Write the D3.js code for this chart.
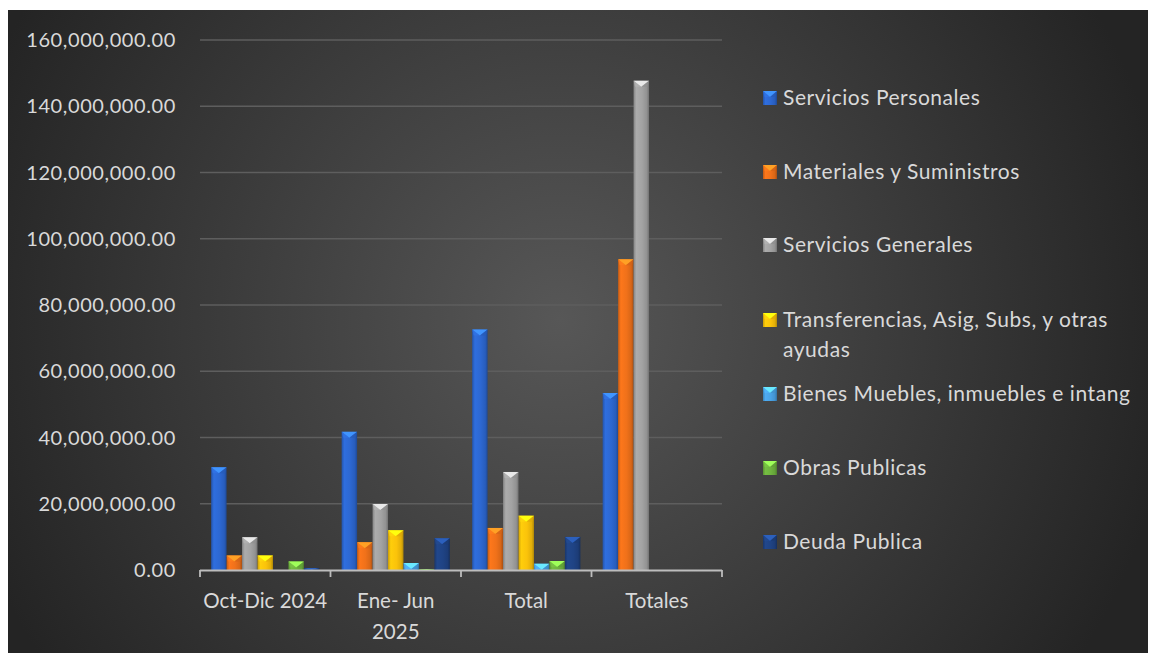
<!DOCTYPE html>
<html><head><meta charset="utf-8">
<script src="https://cdn.jsdelivr.net/npm/d3@7"></script>
<style>
html,body{margin:0;padding:0;background:#fff;}
svg{display:block;}
text{font-family:Lato,"Open Sans",sans-serif;fill:#d9d9d9;}
</style></head>
<body><svg id="c" width="1149" height="653"></svg>
<script>
const categories = ["Oct-Dic 2024", "Ene- Jun 2025", "Total", "Totales"];
const categoryLines = [["Oct-Dic 2024"], ["Ene- Jun", "2025"], ["Total"], ["Totales"]];
const seriesNames = ["Servicios Personales", "Materiales y Suministros", "Servicios Generales",
  "Transferencias, Asig, Subs, y otras ayudas", "Bienes Muebles, inmuebles e intang",
  "Obras Publicas", "Deuda Publica"];
const legendLines = [["Servicios Personales"], ["Materiales y Suministros"], ["Servicios Generales"],
  ["Transferencias, Asig, Subs, y otras", "ayudas"], ["Bienes Muebles, inmuebles e intang"],
  ["Obras Publicas"], ["Deuda Publica"]];
const seriesColors = ["#2d68d2", "#f0711a", "#a3a3a3", "#fbc30a", "#4aa3e6", "#6fb43f", "#1f4384"];
// values per series: [Oct-Dic 2024, Ene-Jun 2025, Total, Totales]
const servPersonales = [31000000, 41700000, 72600000, 53400000];
const materiales     = [4400000, 8400000, 12700000, 93800000];
const servGenerales  = [9900000, 19900000, 29600000, 147700000];
const transferencias = [4400000, 12000000, 16400000, 0];
const bienesMuebles  = [0, 2100000, 1900000, 0];
const obrasPublicas  = [2600000, 250000, 2700000, 0];
const deudaPublica   = [600000, 9600000, 10000000, 0];
const seriesValues = [servPersonales, materiales, servGenerales, transferencias, bienesMuebles, obrasPublicas, deudaPublica];
const yTicks = [0, 20000000, 40000000, 60000000, 80000000, 100000000, 120000000, 140000000, 160000000];

const svg = d3.select("#c");
const defs = svg.append("defs");

// background radial gradient
const bg = defs.append("radialGradient").attr("id","bg").attr("gradientUnits","userSpaceOnUse")
  .attr("cx",560).attr("cy",320).attr("r",620);
bg.append("stop").attr("offset","0%").attr("stop-color","#575757");
bg.append("stop").attr("offset","100%").attr("stop-color","#242424");
svg.append("rect").attr("x",8).attr("y",10).attr("width",1140).attr("height",643).attr("fill","url(#bg)");

// bar gradients
seriesColors.forEach((c,i)=>{
  const g = defs.append("linearGradient").attr("id","g"+i).attr("x1","0").attr("x2","1").attr("y1","0").attr("y2","0");
  const col = d3.color(c);
  g.append("stop").attr("offset","0%").attr("stop-color",col.darker(0.6));
  g.append("stop").attr("offset","18%").attr("stop-color",col.brighter(0.15));
  g.append("stop").attr("offset","55%").attr("stop-color",col);
  g.append("stop").attr("offset","85%").attr("stop-color",col.darker(0.3));
  g.append("stop").attr("offset","100%").attr("stop-color",col.darker(1.0));
});

const x0 = d3.scaleBand().domain(categories).range([200, 722]).padding(0);
const x1 = d3.scaleBand().domain(d3.range(seriesNames.length)).range([0, x0.bandwidth()]).paddingInner(0).paddingOuter(0.72);
const y = d3.scaleLinear().domain([0, 160000000]).range([570, 40]);

// gridlines
svg.append("g").selectAll("line").data(yTicks.slice(1)).join("line")
  .attr("x1",200).attr("x2",722).attr("y1",d=>y(d)).attr("y2",d=>y(d))
  .attr("stroke","#5e5e5e").attr("stroke-width",1.3);

// y labels
const fmt = d3.format(",.2f");
svg.append("g").selectAll("text").data(yTicks).join("text")
  .attr("x",176).attr("y",d=>y(d)).attr("dy","0.35em").attr("text-anchor","end")
  .style("font-size","20px").style("letter-spacing","0.6px").text(d=>fmt(d));

// bars
function drawBar(g, x, yTop, w, h, i){
  g.append("rect").attr("x",x).attr("y",yTop).attr("width",w).attr("height",h).attr("fill","url(#g"+i+")");
  const col = d3.color(seriesColors[i]);
  const t = Math.min(6, h);
  g.append("path").attr("d",`M${x},${yTop}L${x+w},${yTop}L${x+w/2},${yTop+t}Z`).attr("fill",col.brighter(1.0));
  g.append("path").attr("d",`M${x},${yTop}L${x+w/2},${yTop+t}L${x+1.5},${yTop+t}Z`).attr("fill",col.brighter(0.3)).attr("opacity",0.6);
  g.append("path").attr("d",`M${x+w},${yTop}L${x+w/2},${yTop+t}L${x+w-1.5},${yTop+t}Z`).attr("fill",col.darker(0.4)).attr("opacity",0.6);
}
const barsG = svg.append("g");
categories.forEach((cat,ci)=>{
  seriesValues.forEach((vals,si)=>{
    const v = vals[ci];
    if(v<=0) return;
    const bx = x0(cat)+x1(si), bw = x1.bandwidth();
    drawBar(barsG, bx, y(v), bw, y(0)-y(v), si);
  });
});

// axis line & ticks
const ax = svg.append("g");
ax.append("line").attr("x1",200).attr("x2",722).attr("y1",570.5).attr("y2",570.5).attr("stroke","#bdbdbd").attr("stroke-width",1.8);
const bounds = categories.map(c=>x0(c)).concat([722]);
ax.selectAll("line.t").data(bounds).join("line").attr("class","t")
  .attr("x1",d=>d).attr("x2",d=>d).attr("y1",570).attr("y2",577).attr("stroke","#bdbdbd").attr("stroke-width",1.8);

// category labels
categories.forEach((cat,ci)=>{
  const t = svg.append("text").attr("x",x0(cat)+x0.bandwidth()/2).attr("y",601)
    .attr("text-anchor","middle").style("font-size","20.5px");
  categoryLines[ci].forEach((ln,li)=>{
    t.append("tspan").attr("x",x0(cat)+x0.bandwidth()/2).attr("dy", li===0? "0.35em":"31px").text(ln);
  });
});

// legend
const legY = [98, 172, 245, 320, 394, 468, 542];
seriesNames.forEach((s,i)=>{
  const g = svg.append("g");
  drawBar(g, 763, legY[i]-7, 14, 14, i);
  const t = g.append("text").attr("x",783).attr("y",legY[i]).style("font-size","21px").style("letter-spacing","0.55px");
  legendLines[i].forEach((ln,li)=>{
    t.append("tspan").attr("x",783).attr("dy", li===0? "0.35em":"30px").text(ln);
  });
});
</script></body></html>
